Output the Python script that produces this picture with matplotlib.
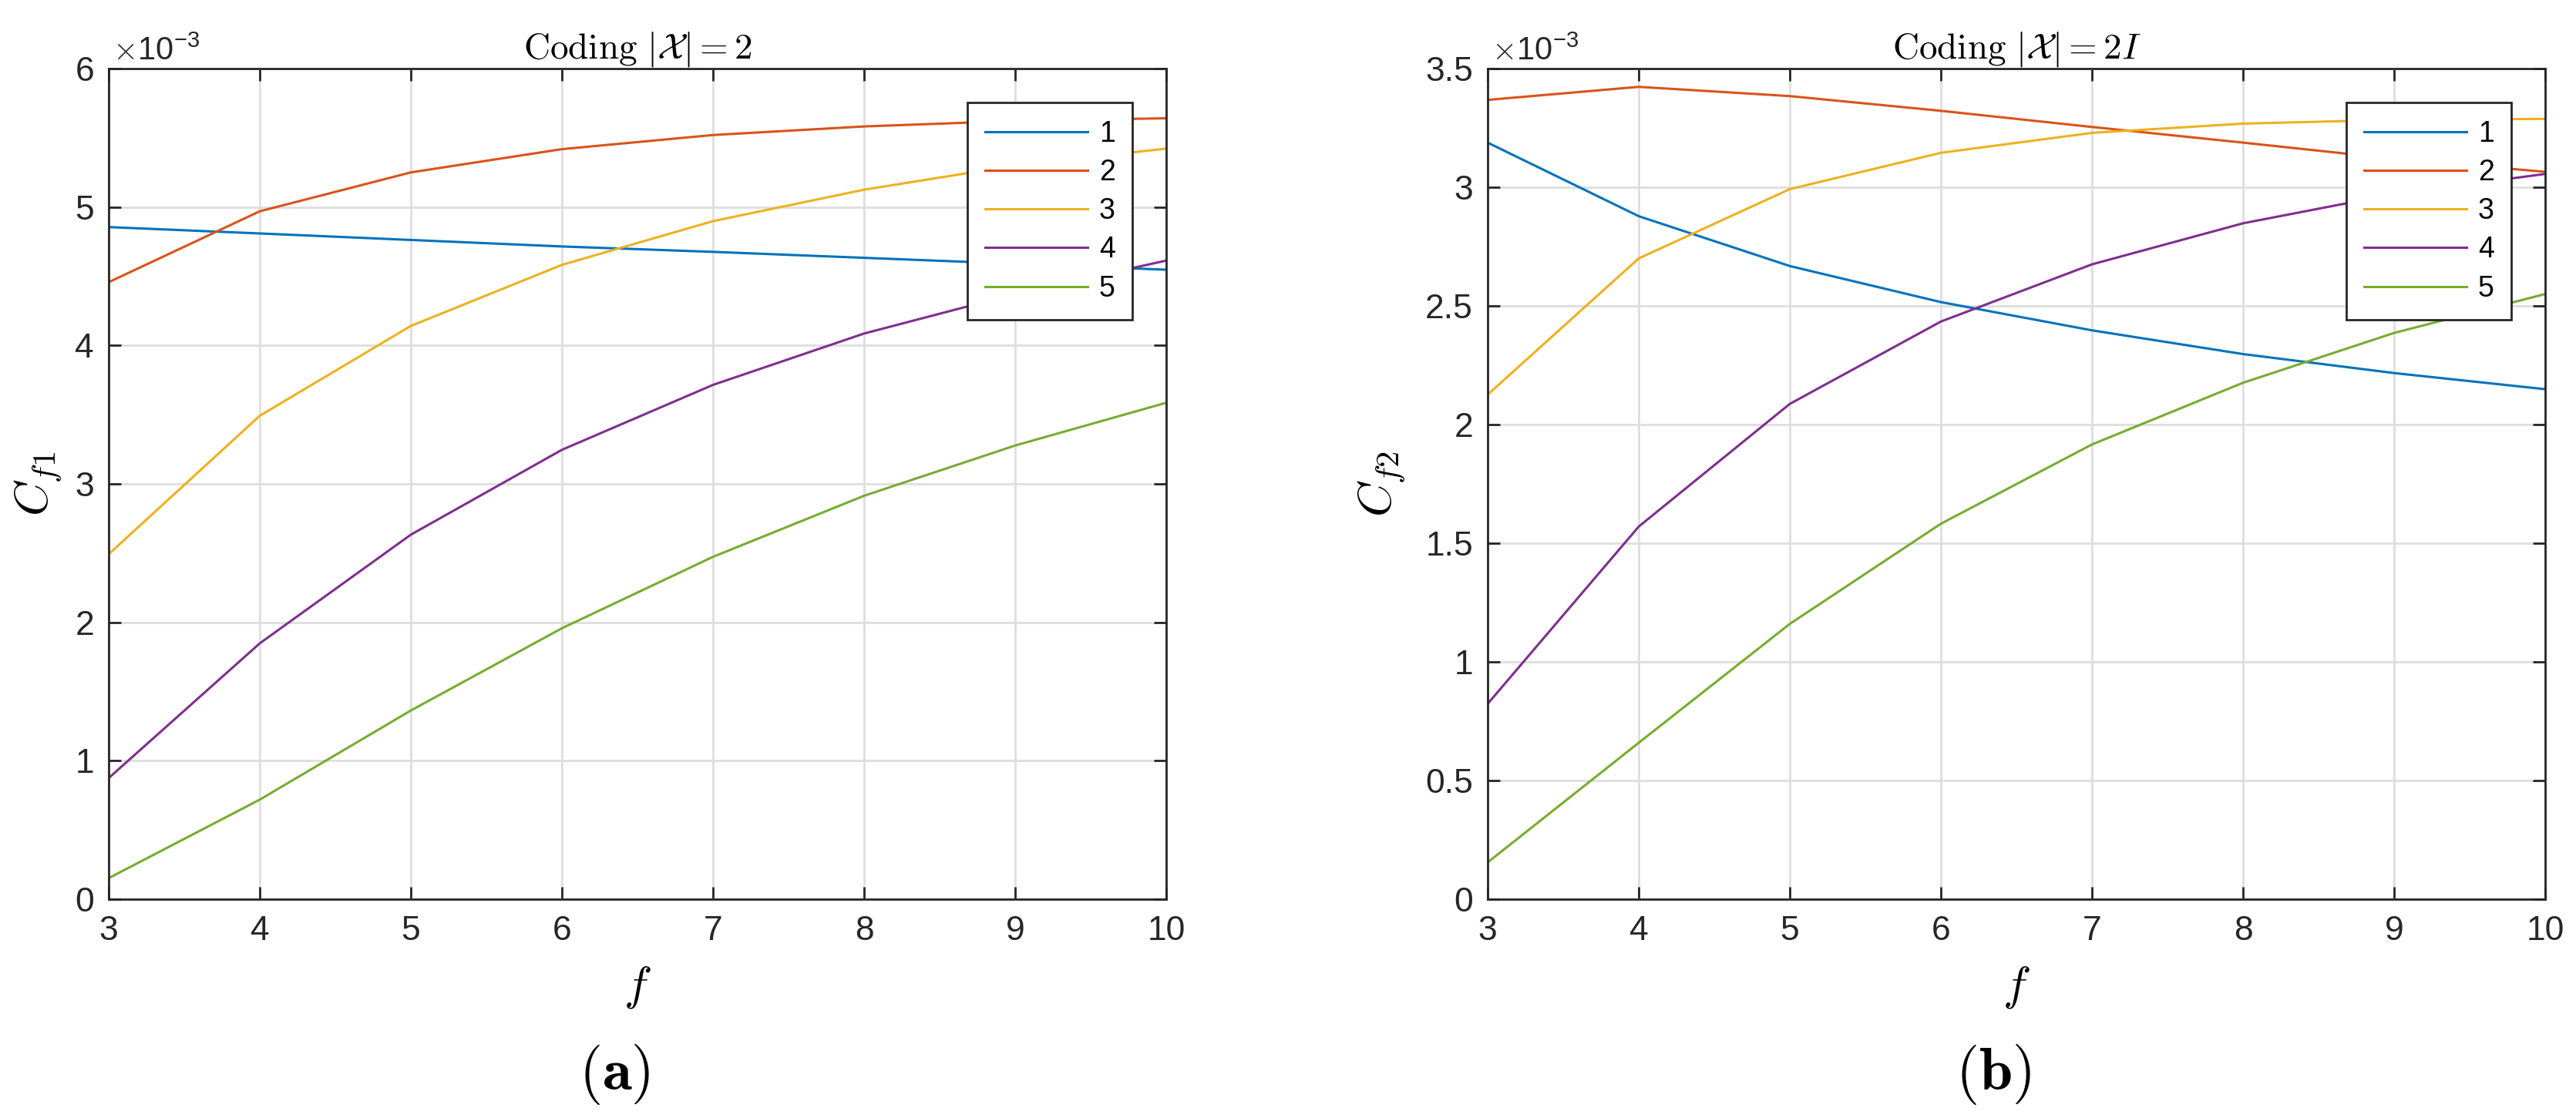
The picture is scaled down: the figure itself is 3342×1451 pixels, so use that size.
import numpy as np
import matplotlib
matplotlib.use("Agg")
import matplotlib.pyplot as plt
from matplotlib.ticker import FuncFormatter, MultipleLocator

plt.rcParams['font.family'] = ['Liberation Sans', 'DejaVu Sans']
plt.rcParams['mathtext.fontset'] = 'cm'

# values, in units of 1e-3
fValues = [3, 4, 5, 6, 7, 8, 9, 10]
seriesLabels = ['1', '2', '3', '4', '5']

cf1Series1 = [4.855, 4.809, 4.762, 4.715, 4.676, 4.633, 4.590, 4.547]
cf1Series2 = [4.457, 4.969, 5.250, 5.418, 5.520, 5.582, 5.622, 5.641]
cf1Series3 = [2.492, 3.492, 4.141, 4.582, 4.898, 5.125, 5.300, 5.422]
cf1Series4 = [0.875, 1.848, 2.633, 3.246, 3.715, 4.086, 4.372, 4.613]
cf1Series5 = [0.152, 0.719, 1.363, 1.957, 2.473, 2.914, 3.277, 3.586]

cf2Series1 = [3.188, 2.878, 2.668, 2.516, 2.397, 2.297, 2.217, 2.149]
cf2Series2 = [3.368, 3.423, 3.384, 3.322, 3.254, 3.188, 3.120, 3.065]
cf2Series3 = [2.126, 2.700, 2.992, 3.145, 3.229, 3.268, 3.284, 3.288]
cf2Series4 = [0.823, 1.570, 2.087, 2.434, 2.675, 2.848, 2.971, 3.056]
cf2Series5 = [0.155, 0.659, 1.160, 1.582, 1.916, 2.176, 2.386, 2.550]

lineColors = ['#0072BD', '#D95319', '#EDB120', '#7E2F8E', '#77AC30']
axisColor = '#262626'

figWidth, figHeight = 3342, 1451
dpi = 200


def styleAxes(ax, yMax, yStep):
    ax.set_xlim(3, 10)
    ax.set_ylim(0, yMax * 1e-3)
    ax.xaxis.set_major_locator(MultipleLocator(1))
    ax.yaxis.set_major_locator(MultipleLocator(yStep * 1e-3))
    ax.yaxis.set_major_formatter(FuncFormatter(lambda v, pos: f"{v * 1e3:g}"))
    ax.grid(True, color='#dedede', linewidth=1.0)
    ax.set_axisbelow(True)
    for spine in ax.spines.values():
        spine.set_color(axisColor)
        spine.set_linewidth(1.0)
    ax.tick_params(direction='in', length=5.7, width=1.0, color=axisColor,
                   labelcolor=axisColor, labelsize=16, top=True, right=True)
    ax.tick_params(axis='x', pad=7.5)
    ax.tick_params(axis='y', pad=6.8)
    ax.text(0.004, 1.010, r'$\times\mathdefault{10^{-3}}$', transform=ax.transAxes,
            fontsize=15, color=axisColor, ha='left', va='baseline')


def drawPanel(ax, seriesList, yMax, yStep, titleText, yLabel, yLabelX):
    for values, color, label in zip(seriesList, lineColors, seriesLabels):
        ax.plot(fValues, np.array(values) * 1e-3, color=color, linewidth=1.1, label=label)
    styleAxes(ax, yMax, yStep)
    ax.set_title(titleText, fontsize=17, pad=5)
    ax.set_xlabel(r'$f$', fontsize=22)
    ax.xaxis.set_label_coords(0.5, -0.079)
    ax.set_ylabel(yLabel, fontsize=22)
    ax.yaxis.set_label_coords(yLabelX, 0.5)
    legend = ax.legend(loc='upper right', bbox_to_anchor=(0.968, 0.959), borderaxespad=0,
                       fontsize=13.5, handlelength=3.55, handletextpad=0.4,
                       labelspacing=0.38, borderpad=0.6, fancybox=False, framealpha=1)
    legend.get_frame().set_edgecolor(axisColor)
    legend.get_frame().set_linewidth(1.0)


fig = plt.figure(figsize=(figWidth / dpi, figHeight / dpi), dpi=dpi)

axLeft = fig.add_axes([141 / figWidth, 1 - 1167 / figHeight, 1372 / figWidth, 1078 / figHeight])
axRight = fig.add_axes([1930 / figWidth, 1 - 1167 / figHeight, 1372 / figWidth, 1078 / figHeight])

drawPanel(axLeft, [cf1Series1, cf1Series2, cf1Series3, cf1Series4, cf1Series5],
          6, 1, r'$\mathrm{Coding}\ |\mathcal{X}|=2$', r'$C_{f1}$', -0.043)
drawPanel(axRight, [cf2Series1, cf2Series2, cf2Series3, cf2Series4, cf2Series5],
          3.5, 0.5, r'$\mathrm{Coding}\ |\mathcal{X}|=2I$', r'$C_{f2}$', -0.0765)

fig.text(797 / figWidth, 1 - 1395 / figHeight, r'$(\mathbf{a})$', fontsize=28, ha='center', va='center')
fig.text(2586 / figWidth, 1 - 1395 / figHeight, r'$(\mathbf{b})$', fontsize=28, ha='center', va='center')

fig.savefig('out.png', dpi=dpi, facecolor='white')
